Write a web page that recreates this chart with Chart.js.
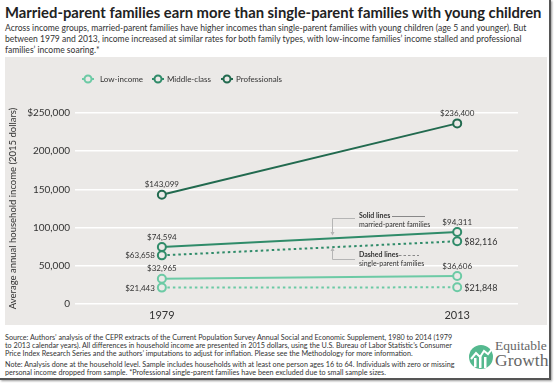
<!DOCTYPE html>
<html><head><meta charset="utf-8">
<script src="https://cdn.jsdelivr.net/npm/chart.js@4/dist/chart.umd.min.js"></script>
<style>
html,body{margin:0;padding:0;background:#fff;}
#card{position:absolute;left:0;top:0;width:549px;height:378px;background:#fff;border-right:2px solid #555;border-bottom:2px solid #555;box-shadow:1px 1px 2px rgba(0,0,0,0.4);overflow:hidden;font-family:Lato,"Open Sans",sans-serif;color:#2b2b2b;}
#title{position:absolute;left:5px;top:3px;font-size:14.8px;font-weight:700;line-height:19px;white-space:nowrap;color:#222;}
#sub{position:absolute;left:5px;top:22.5px;font-size:8.55px;line-height:11px;white-space:nowrap;color:#333;}
#panel{position:absolute;left:5px;top:57px;width:542px;height:268px;background:#ebe9e7;}
#foot{position:absolute;left:5px;top:333.5px;font-size:7.2px;line-height:8px;white-space:nowrap;color:#333;}
#foot p{margin:0 0 3.5px 0;}
#logo{position:absolute;left:468px;top:340px;width:82px;height:32px;}
#logo .t1{position:absolute;left:27px;top:-1px;font-family:"Liberation Serif",serif;font-size:13.5px;line-height:14px;color:#666;}
#logo .t2{position:absolute;left:27px;top:11px;font-family:"Liberation Serif",serif;font-size:17.5px;line-height:18px;color:#666;}
</style></head>
<body>
<div id="card">
  <div id="title">Married-parent families earn more than single-parent families with young children</div>
  <div id="sub">Across income groups, married-parent families have higher incomes than single-parent families with young children (age 5 and younger). But<br>between 1979 and 2013, income increased at similar rates for both family types, with low-income families’ income stalled and professional<br>families’ income soaring.*</div>
  <div id="panel"><canvas id="c" width="542" height="268"></canvas></div>
  <div id="foot"><p>Source: Authors’ analysis of the CEPR extracts of the Current Population Survey Annual Social and Economic Supplement, 1980 to 2014 (1979<br>to 2013 calendar years). All differences in household income are presented in 2015 dollars, using the U.S. Bureau of Labor Statistic’s Consumer<br>Price Index Research Series and the authors’ imputations to adjust for inflation. Please see the Methodology for more information.</p><p>Note: Analysis done at the household level. Sample includes households with at least one person ages 16 to 64. Individuals with zero or missing<br>personal income dropped from sample. *Professional single-parent families have been excluded due to small sample sizes.</p></div>
  <div id="logo">
    <svg width="26" height="26" viewBox="0 0 26 26" style="position:absolute;left:0;top:4px">
      <circle cx="13" cy="13" r="12" fill="#55b98f"/>
      <rect x="6" y="14" width="2.5" height="9" fill="#fff"/>
      <rect x="11" y="11" width="2.5" height="13" fill="#fff"/>
      <rect x="16" y="13" width="2.5" height="11" fill="#fff"/>
      <polyline points="3,15 8,9 12,13 16,7 20,10 24,5" fill="none" stroke="#fff" stroke-width="2"/>
    </svg>
    <div class="t1">Equitable</div>
    <div class="t2">Growth</div>
  </div>
</div>
<script>
// ---- data ----
const years = [1979, 2013];
const professionalsMarried = [143099, 236400];
const middleMarried = [74594, 94311];
const middleSingle = [63658, 82116];
const lowMarried = [32965, 36606];
const lowSingle = [21443, 21848];
const yTickValues = [0, 50000, 100000, 150000, 200000, 250000];
const legendNames = ['Low-income', 'Middle-class', 'Professionals'];

const C_LOW = '#6ccaa5', C_MID = '#2f8b69', C_PRO = '#226a4f';
const PANEL = '#ebe9e7';

function pts(vals){ return years.map((y,i)=>({x:y, y:vals[i]})); }
function ds(vals, color, dashed, labelPos){
  return {data: pts(vals), borderColor: color, backgroundColor: PANEL, pointBackgroundColor: PANEL,
    pointBorderColor: color, borderWidth: 2, pointRadius: 4, pointBorderWidth: 2,
    borderDash: dashed ? [2.5,3] : [], tension: 0, labelPos: labelPos};
}
const datasets = [
  ds(professionalsMarried, C_PRO, false, ['above','above']),
  ds(middleMarried, C_MID, false, ['above','above']),
  ds(middleSingle, C_MID, true, ['left','right']),
  ds(lowMarried, C_LOW, false, ['above','above']),
  ds(lowSingle, C_LOW, true, ['left','right'])
];

const fmt = v => '$' + v.toLocaleString('en-US');

const labelPlugin = {
  id: 'valueLabels',
  afterDatasetsDraw(chart){
    const ctx = chart.ctx;
    ctx.save();
    ctx.font = '8px Lato';
    ctx.fillStyle = '#333';
    chart.data.datasets.forEach((d, di) => {
      const meta = chart.getDatasetMeta(di);
      meta.data.forEach((el, i) => {
        const pos = d.labelPos[i];
        const txt = fmt(d.data[i].y);
        ctx.textBaseline = 'middle';
        if (pos === 'above'){ ctx.textAlign = 'center'; ctx.fillText(txt, el.x, el.y - 10); }
        else if (pos === 'left'){ ctx.textAlign = 'right'; ctx.fillText(txt, el.x - 7, el.y + 0.5); }
        else { ctx.textAlign = 'left'; ctx.font = '9px Lato'; ctx.fillText(txt, el.x + 7, el.y + 0.5); ctx.font = '8px Lato'; }
      });
    });
    ctx.restore();
  }
};

const legendPlugin = {
  id: 'customLegend',
  afterDraw(chart){
    const ctx = chart.ctx;
    const items = [[83, 95, C_LOW], [153, 162, C_MID], [222, 231, C_PRO]];
    ctx.save();
    items.forEach((it, k) => {
      const [mx, tx, col] = it; const y = 22;
      ctx.strokeStyle = col; ctx.lineWidth = 2;
      ctx.beginPath(); ctx.moveTo(mx - 6, y); ctx.lineTo(mx + 6, y); ctx.stroke();
      ctx.beginPath(); ctx.arc(mx, y, 3.5, 0, Math.PI * 2); ctx.fillStyle = PANEL; ctx.fill(); ctx.stroke();
      ctx.fillStyle = '#333'; ctx.font = '8px Lato'; ctx.textAlign = 'left'; ctx.textBaseline = 'middle';
      ctx.fillText(legendNames[k], tx, y + 0.5);
    });
    ctx.restore();
  }
};

const notePlugin = {
  id: 'lineNote',
  afterDraw(chart){
    const ctx = chart.ctx;
    ctx.save();
    ctx.strokeStyle = '#b5b5b5'; ctx.fillStyle = '#b5b5b5'; ctx.lineWidth = 1;
    ctx.beginPath(); ctx.moveTo(350, 161.5); ctx.lineTo(327.5, 161.5); ctx.lineTo(327.5, 176); ctx.stroke();
    ctx.beginPath(); ctx.moveTo(325.5, 175); ctx.lineTo(329.5, 175); ctx.lineTo(327.5, 178.5); ctx.closePath(); ctx.fill();
    ctx.beginPath(); ctx.moveTo(350, 202.5); ctx.lineTo(327.5, 202.5); ctx.lineTo(327.5, 193); ctx.stroke();
    ctx.beginPath(); ctx.moveTo(325.5, 194); ctx.lineTo(329.5, 194); ctx.lineTo(327.5, 190.5); ctx.closePath(); ctx.fill();
    ctx.fillStyle = '#333'; ctx.textAlign = 'left'; ctx.textBaseline = 'middle';
    ctx.font = 'bold 7px Lato'; ctx.fillText('Solid lines', 354, 159);
    ctx.font = '7px Lato'; ctx.fillText('married-parent families', 354, 167.5);
    ctx.font = 'bold 7px Lato'; ctx.fillText('Dashed lines', 354, 198);
    ctx.font = '7px Lato'; ctx.fillText('single-parent families', 354, 206.5);
    ctx.strokeStyle = '#888'; ctx.lineWidth = 1;
    ctx.beginPath(); ctx.moveTo(387, 159.5); ctx.lineTo(420, 159.5); ctx.stroke();
    ctx.setLineDash([2.5, 2]);
    ctx.beginPath(); ctx.moveTo(394, 198.5); ctx.lineTo(414, 198.5); ctx.stroke();
    ctx.restore();
  }
};

new Chart(document.getElementById('c'), {
  type: 'line',
  data: { datasets },
  plugins: [labelPlugin, legendPlugin, notePlugin],
  options: {
    responsive: false, animation: false,
    layout: { padding: { top: 56, right: 29, left: 0, bottom: 0 } },
    plugins: { legend: { display: false }, tooltip: { enabled: false } },
    scales: {
      x: { type: 'linear', min: 1969, max: 2020,
        afterBuildTicks(s){ s.ticks = years.map(v => ({value: v})); },
        afterFit(s){ s.height = 21; },
        grid: { display: false, drawTicks: false }, border: { display: false },
        ticks: { callback: v => String(v), color: '#333', font: { family: 'Lato', size: 11 }, padding: 5, maxRotation: 0 } },
      y: { min: 0, max: 250000,
        afterBuildTicks(s){ s.ticks = yTickValues.map(v => ({value: v})); },
        afterFit(s){ s.width = 70; },
        grid: { color: '#ffffff', lineWidth: 1.5, drawTicks: false }, border: { display: false },
        ticks: { callback: v => v === 250000 ? fmt(v) : v.toLocaleString('en-US'), color: '#333', font: { family: 'Lato', size: 10 }, padding: 5 },
        title: { display: true, text: 'Average annual household income (2015 dollars)', color: '#333', font: { family: 'Lato', size: 9.5 }, padding: { top: 2, bottom: 0 } } }
    }
  }
});
</script>
</body></html>
